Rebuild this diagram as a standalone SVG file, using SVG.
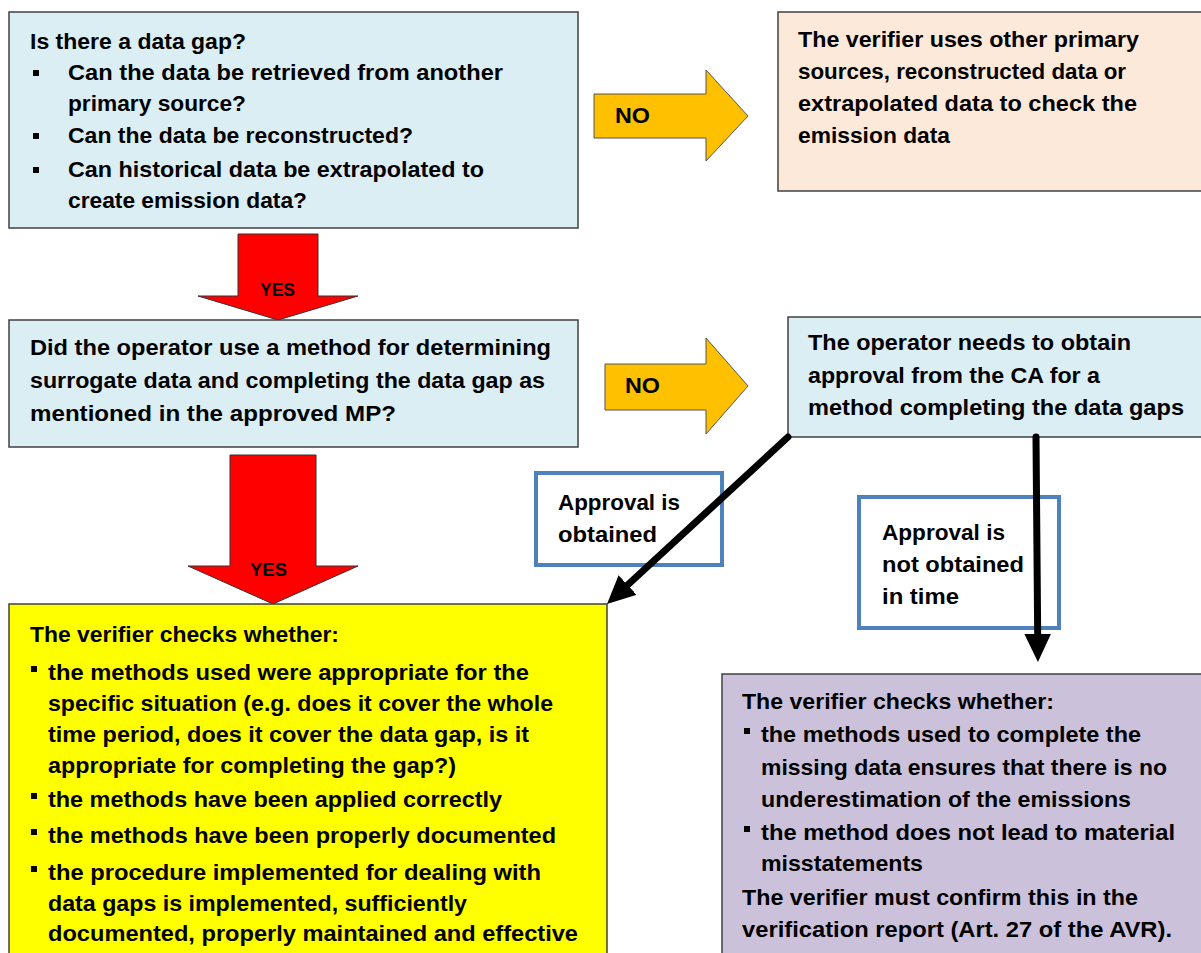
<svg xmlns="http://www.w3.org/2000/svg" width="1201" height="953" viewBox="0 0 1201 953">
<style>
text{font-family:"Liberation Sans",Arial,sans-serif;font-weight:bold;font-size:21.5px;fill:#000}
.box{stroke:#404040;stroke-width:1.5}
.blue{fill:#DBEEF4}
.peach{fill:#FDE9D9}
.yellow{fill:#FFFF00}
.purple{fill:#CCC1DA}
.lbl{fill:#fff;stroke:#4F81BD;stroke-width:4}
.orange{fill:#FFC000;stroke:#555;stroke-width:1}
.red{fill:#FF0000;stroke:#333;stroke-width:1}
.conn{stroke:#000;stroke-width:7;stroke-linecap:round;fill:none}
.bul{fill:#000}
.small{font-size:19px}
</style>
<defs>
<marker id="ah" markerWidth="4" markerHeight="3.8" viewBox="0 0 4 3.8" refX="2" refY="1.9" orient="auto" markerUnits="strokeWidth">
<path d="M0,0 L4,1.9 L0,3.8 Z" fill="#000"/>
</marker>
</defs>

<g id="n1">
<rect class="box blue" x="9" y="12" width="569" height="216"/>
<text x="30" y="49" textLength="216" lengthAdjust="spacingAndGlyphs">Is there a data gap?</text>
<rect class="bul" x="33" y="70" width="6" height="6"/>
<text x="68" y="80" textLength="435" lengthAdjust="spacingAndGlyphs">Can the data be retrieved from another</text>
<text x="68" y="111" textLength="178" lengthAdjust="spacingAndGlyphs">primary source?</text>
<rect class="bul" x="33" y="133" width="6" height="6"/>
<text x="68" y="143" textLength="345" lengthAdjust="spacingAndGlyphs">Can the data be reconstructed?</text>
<rect class="bul" x="33" y="167" width="6" height="6"/>
<text x="68" y="177" textLength="416" lengthAdjust="spacingAndGlyphs">Can historical data be extrapolated to</text>
<text x="68" y="208" textLength="239" lengthAdjust="spacingAndGlyphs">create emission data?</text>
</g>

<g id="no1">
<polygon class="orange" points="594,94 706,94 706,70 748,116 706,161 706,138 594,138"/>
<text x="615" y="123" textLength="35" lengthAdjust="spacingAndGlyphs">NO</text>
</g>

<g id="n2">
<rect class="box peach" x="778" y="12" width="430" height="179"/>
<text x="798" y="47" textLength="341" lengthAdjust="spacingAndGlyphs">The verifier uses other primary</text>
<text x="798" y="79" textLength="328" lengthAdjust="spacingAndGlyphs">sources, reconstructed data or</text>
<text x="798" y="111" textLength="339" lengthAdjust="spacingAndGlyphs">extrapolated data to check the</text>
<text x="798" y="143" textLength="152" lengthAdjust="spacingAndGlyphs">emission data</text>
</g>

<g id="yes1">
<polygon class="red" points="238,234 318,234 318,296 358,296 278,320 198,296 238,296"/>
<text class="small" x="260" y="296" textLength="35" lengthAdjust="spacingAndGlyphs">YES</text>
</g>

<g id="n3">
<rect class="box blue" x="9" y="320" width="569" height="127"/>
<text x="30" y="355" textLength="521" lengthAdjust="spacingAndGlyphs">Did the operator use a method for determining</text>
<text x="30" y="388" textLength="515" lengthAdjust="spacingAndGlyphs">surrogate data and completing the data gap as</text>
<text x="30" y="421" textLength="366" lengthAdjust="spacingAndGlyphs">mentioned in the approved MP?</text>
</g>

<g id="no2">
<polygon class="orange" points="605,364 706,364 706,338 748,386 706,434 706,410 605,410"/>
<text x="625" y="393" textLength="35" lengthAdjust="spacingAndGlyphs">NO</text>
</g>

<g id="n4">
<rect class="box blue" x="788" y="317" width="420" height="120"/>
<text x="808" y="350" textLength="323" lengthAdjust="spacingAndGlyphs">The operator needs to obtain</text>
<text x="808" y="383" textLength="292" lengthAdjust="spacingAndGlyphs">approval from the CA for a</text>
<text x="808" y="415" textLength="376" lengthAdjust="spacingAndGlyphs">method completing the data gaps</text>
</g>

<g id="yes2">
<polygon class="red" points="230,455 316,455 316,566 358,566 273,604 188,566 230,566"/>
<text class="small" x="250" y="576" textLength="37" lengthAdjust="spacingAndGlyphs">YES</text>
</g>

<g id="n5">
<rect class="box yellow" x="9" y="604" width="598" height="360"/>
<text x="30" y="642" textLength="309" lengthAdjust="spacingAndGlyphs">The verifier checks whether:</text>
<rect class="bul" x="31" y="666" width="6" height="6"/>
<text x="48" y="680" textLength="481" lengthAdjust="spacingAndGlyphs">the methods used were appropriate for the</text>
<text x="48" y="711" textLength="505" lengthAdjust="spacingAndGlyphs">specific situation (e.g. does it cover the whole</text>
<text x="48" y="742" textLength="481" lengthAdjust="spacingAndGlyphs">time period, does it cover the data gap, is it</text>
<text x="48" y="773" textLength="408" lengthAdjust="spacingAndGlyphs">appropriate for completing the gap?)</text>
<rect class="bul" x="31" y="793" width="6" height="6"/>
<text x="48" y="807" textLength="454" lengthAdjust="spacingAndGlyphs">the methods have been applied correctly</text>
<rect class="bul" x="31" y="829" width="6" height="6"/>
<text x="48" y="843" textLength="508" lengthAdjust="spacingAndGlyphs">the methods have been properly documented</text>
<rect class="bul" x="31" y="866" width="6" height="6"/>
<text x="48" y="880" textLength="493" lengthAdjust="spacingAndGlyphs">the procedure implemented for dealing with</text>
<text x="48" y="911" textLength="419" lengthAdjust="spacingAndGlyphs">data gaps is implemented, sufficiently</text>
<text x="48" y="941" textLength="530" lengthAdjust="spacingAndGlyphs">documented, properly maintained and effective</text>
</g>

<g id="n6">
<rect class="box purple" x="722" y="674" width="490" height="290"/>
<text x="742" y="709" textLength="312" lengthAdjust="spacingAndGlyphs">The verifier checks whether:</text>
<rect class="bul" x="744" y="728" width="6" height="6"/>
<text x="761" y="742" textLength="380" lengthAdjust="spacingAndGlyphs">the methods used to complete the</text>
<text x="761" y="775" textLength="406" lengthAdjust="spacingAndGlyphs">missing data ensures that there is no</text>
<text x="761" y="807" textLength="370" lengthAdjust="spacingAndGlyphs">underestimation of the emissions</text>
<rect class="bul" x="744" y="826" width="6" height="6"/>
<text x="761" y="840" textLength="414" lengthAdjust="spacingAndGlyphs">the method does not lead to material</text>
<text x="761" y="871" textLength="162" lengthAdjust="spacingAndGlyphs">misstatements</text>
<text x="742" y="905" textLength="396" lengthAdjust="spacingAndGlyphs">The verifier must confirm this in the</text>
<text x="742" y="937" textLength="430" lengthAdjust="spacingAndGlyphs">verification report (Art. 27 of the AVR).</text>
</g>

<g id="l1">
<rect class="lbl" x="536" y="473" width="186" height="92"/>
<text x="558" y="510" textLength="122" lengthAdjust="spacingAndGlyphs">Approval is</text>
<text x="558" y="542" textLength="99" lengthAdjust="spacingAndGlyphs">obtained</text>
</g>

<g id="l2">
<rect class="lbl" x="859" y="497" width="200" height="131"/>
<text x="882" y="540" textLength="123" lengthAdjust="spacingAndGlyphs">Approval is</text>
<text x="882" y="572" textLength="142" lengthAdjust="spacingAndGlyphs">not obtained</text>
<text x="882" y="604" textLength="77" lengthAdjust="spacingAndGlyphs">in time</text>
</g>

<g id="connectors">
<line class="conn" x1="788" y1="437" x2="617.3" y2="594.5" marker-end="url(#ah)"/>
<line class="conn" x1="1036" y1="437" x2="1037.8" y2="648" marker-end="url(#ah)"/>
</g>
</svg>
